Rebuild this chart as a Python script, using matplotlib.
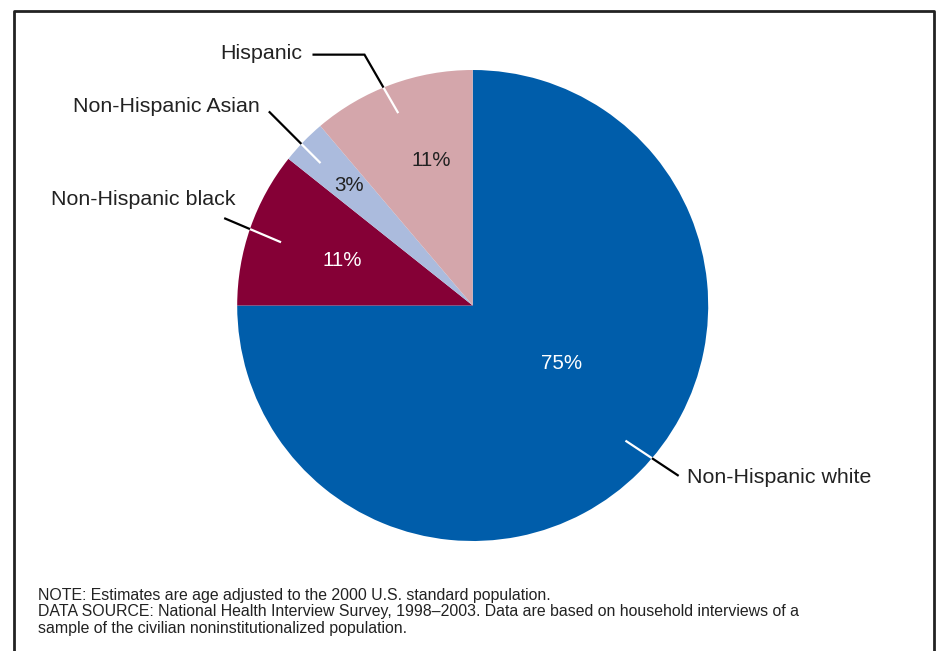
import matplotlib
matplotlib.use("Agg")
import matplotlib.pyplot as plt
from matplotlib.lines import Line2D
import numpy as np

# ---- data ----
categories = ["Non-Hispanic white", "Non-Hispanic black", "Non-Hispanic Asian", "Hispanic"]
values = [75.0, 10.7, 3.1, 11.2]
pct_labels = ["75%", "11%", "3%", "11%"]
notes = [
    "NOTE: Estimates are age adjusted to the 2000 U.S. standard population.",
    "DATA SOURCE: National Health Interview Survey, 1998\u20132003. Data are based on household interviews of a",
    "sample of the civilian noninstitutionalized population.",
]

# ---- style ----
colors = ["#005DAA", "#850036", "#ABBBDD", "#D4A6AB"]
pct_colors = ["white", "white", "#222222", "#222222"]
pct_r = [0.45, 0.585, 0.73, 0.64]
pct_dang = [12, 0, 0, -4]
lead_dang = [3.5, 1, 1, 1]
lead_r0 = [0.866, 0.857, 0.885, 0.876]
lead_dir = [-33.5, 157.0, 135.0, 120.0]   # direction of leader line (deg)
lead_len = [32, 28, 46, 38]               # px of black part outside the pie
lead_horiz = [0, 0, 0, -52]               # px horizontal tail
lab_off = [(8, -2, "left"), (11, 19, "right"), (-9, 5, "right"), (-10, 1, "right")]

plt.rcParams["font.family"] = ["Liberation Sans", "DejaVu Sans"]

W, H = 940, 651
cx, cy, R = 472.7, 305.5, 235.5

fig = plt.figure(figsize=(W / 100, H / 100), dpi=100)
ax = fig.add_axes([0, 0, 1, 1])
wedges, _ = ax.pie(values, colors=colors, startangle=90, counterclock=False,
                   radius=1.0, center=(0, 0), wedgeprops=dict(linewidth=0))
ax.set_aspect("auto")
ax.set_xlim(-cx / R, (W - cx) / R)
ax.set_ylim(-(H - cy) / R, cy / R)
ax.axis("off")

px = 1.0 / R
for i, w in enumerate(wedges):
    mid = (w.theta1 + w.theta2) / 2.0
    a = np.deg2rad(mid + pct_dang[i])
    ax.text(pct_r[i] * np.cos(a), pct_r[i] * np.sin(a), pct_labels[i],
            color=pct_colors[i], fontsize=14.8, ha="center", va="center")
    b = np.deg2rad(mid + lead_dang[i])
    p = np.array([lead_r0[i] * np.cos(b), lead_r0[i] * np.sin(b)])
    d = np.array([np.cos(np.deg2rad(lead_dir[i])), np.sin(np.deg2rad(lead_dir[i]))])
    pd = p @ d
    t = -pd + np.sqrt(pd * pd - (p @ p - 1.0))
    q = p + t * d
    ax.plot([p[0], q[0]], [p[1], q[1]], color="white", lw=1.6, solid_capstyle="butt")
    e = q + lead_len[i] * px * d
    xs = [q[0], e[0]]
    ys = [q[1], e[1]]
    ex, ey = e
    if lead_horiz[i]:
        ex = ex + lead_horiz[i] * px
        xs.append(ex)
        ys.append(ey)
    ax.plot(xs, ys, color="black", lw=1.6, solid_capstyle="butt", solid_joinstyle="miter")
    dx, dy, ha = lab_off[i]
    ax.text(ex + dx * px, ey + dy * px, categories[i], fontsize=15.4,
            color="#222222", ha=ha, va="center")

# notes
for k, t in enumerate(notes):
    fig.text(38 / W, 1 - (600 + 16.3 * k) / H, t, fontsize=11.4, color="#222222",
             ha="left", va="baseline")

# border (left, top, right)
bx = [14 / W, 14 / W, 934 / W, 934 / W]
by = [0.0, 1 - 11 / H, 1 - 11 / H, 0.0]
fig.add_artist(Line2D(bx, by, transform=fig.transFigure, color="#222222", lw=2))

fig.savefig("out.png", dpi=100)
